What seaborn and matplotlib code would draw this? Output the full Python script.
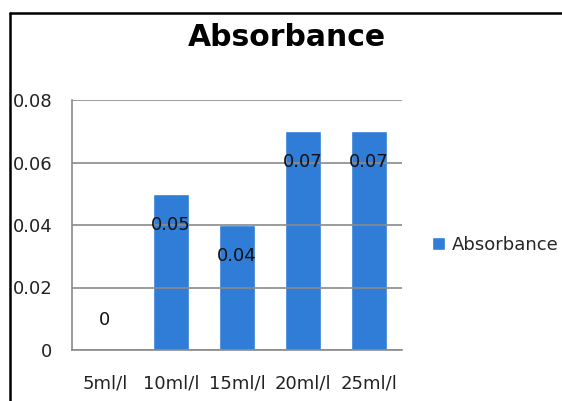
import matplotlib
matplotlib.use("Agg")
import matplotlib.pyplot as plt
from matplotlib.lines import Line2D
import seaborn as sns
import pandas as pd

categories = ["5ml/l", "10ml/l", "15ml/l", "20ml/l", "25ml/l"]
absorbance = [0.0, 0.05, 0.04, 0.07, 0.07]
value_labels = ["0", "0.05", "0.04", "0.07", "0.07"]
y_ticks = [0, 0.02, 0.04, 0.06, 0.08]
y_tick_labels = ["0", "0.02", "0.04", "0.06", "0.08"]
series_name = "Absorbance"

sns.set_theme(style="white")
plt.rcParams["font.family"] = ["DejaVu Sans"]

W, H = 562, 401
fig = plt.figure(figsize=(W / 100, H / 100), dpi=100)
ax = fig.add_axes([72 / W, 1 - 350 / H, 330 / W, 250 / H])

df = pd.DataFrame({"conc": categories, "value": absorbance})
bar_color = "#2F7DD7"
sns.barplot(data=df, x="conc", y="value", color=bar_color, width=0.56,
            saturation=1, ax=ax, label=series_name, zorder=1)
handles, labels = ax.get_legend_handles_labels()
if ax.get_legend() is not None:
    ax.get_legend().remove()

ax.set_ylim(0, 0.08)
ax.set_xlim(-0.5, len(categories) - 0.5)
ax.set_yticks(y_ticks)
ax.set_yticklabels(y_tick_labels, fontsize=13, color="#222222")
ax.set_xticks(range(len(categories)))
ax.set_xticklabels(categories, fontsize=13, color="#222222")
ax.tick_params(axis="y", length=0, pad=14)
ax.tick_params(axis="x", length=0, pad=18)
ax.set_xlabel("")
ax.set_ylabel("")

# gridlines drawn above the bars
grid_color = "#8a8a8a"
for yv in y_ticks:
    ax.axhline(yv, color=grid_color, lw=1.2, zorder=3)
for side in ["top", "right"]:
    ax.spines[side].set_visible(False)
for side in ["left", "bottom"]:
    ax.spines[side].set_color(grid_color)
    ax.spines[side].set_linewidth(1.2)
    ax.spines[side].set_zorder(3)

# value labels near the inside end of each bar
for i, (v, lab) in enumerate(zip(absorbance, value_labels)):
    dy = 30 if v == 0 else -31
    ax.annotate(lab, xy=(i, v), xytext=(0, dy * 0.72), textcoords="offset points",
                ha="center", va="center", fontsize=13, color="#111111", zorder=4)

fig.text(287 / W, 1 - 37 / H, series_name, ha="center", va="center",
         fontsize=21.5, fontweight="bold", color="black")

fig.legend(handles, labels, loc="center left", bbox_to_anchor=(432 / W, 1 - 245 / H),
           frameon=False, fontsize=13, handlelength=0.7, handleheight=0.7,
           handletextpad=0.4, borderpad=0, borderaxespad=0)

# outer chart border (left and top edges)
fig.add_artist(Line2D([10 / W, 10 / W], [0, 1 - 13 / H], color="black", lw=1.8,
                      transform=fig.transFigure))
fig.add_artist(Line2D([10 / W, 1], [1 - 13 / H, 1 - 13 / H], color="black", lw=1.8,
                      transform=fig.transFigure))

fig.savefig("out.png", dpi=100)
